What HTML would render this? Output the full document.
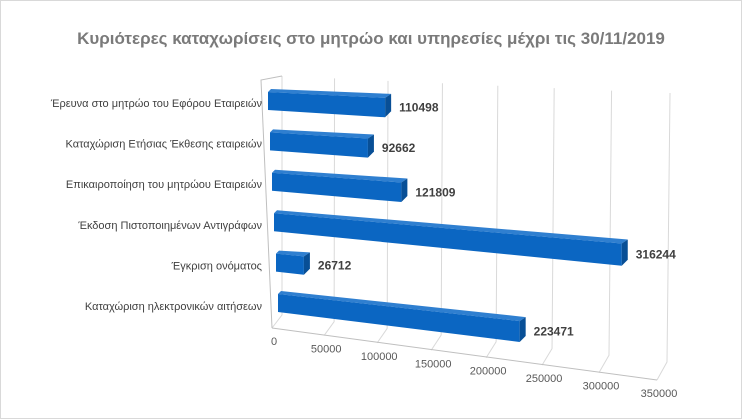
<!DOCTYPE html>
<html><head><meta charset="utf-8"><style>
body{margin:0;background:#fff}
svg{display:block;font-family:"Liberation Sans","DejaVu Sans",sans-serif}
</style></head><body>
<svg width="742" height="419" viewBox="0 0 742 419" xmlns="http://www.w3.org/2000/svg">
<rect x="0.5" y="0.5" width="741" height="418" fill="#fff" stroke="#d9d9d9"/>
<text x="371" y="44" text-anchor="middle" font-size="17" font-weight="bold" fill="#7a7a7a">Κυριότερες καταχωρίσεις στο μητρώο και υπηρεσίες  μέχρι τις 30/11/2019</text>
<g id="grid"></g><g id="bars"></g><g id="labels"></g>
</svg>
<script>
const categories=["Έρευνα στο μητρώο του Εφόρου Εταιρειών","Καταχώριση Ετήσιας Έκθεσης  εταιρειών","Επικαιροποίηση του μητρώου Εταιρειών","Έκδοση Πιστοποιημένων Αντιγράφων","Έγκριση  ονόματος","Καταχώριση ηλεκτρονικών αιτήσεων"];
const values=[110498,92662,121809,316244,26712,223471];
const ticks=[0,50000,100000,150000,200000,250000,300000,350000];
const MAX=350000;
const NS="http://www.w3.org/2000/svg";
function mk(tag,attrs,parent){const e=document.createElementNS(NS,tag);for(const k in attrs)e.setAttribute(k,attrs[k]);parent.appendChild(e);return e;}
function persp(v){const t=v/MAX;return t/(1-0.06*t)*0.94;}
// back wall
function bx(v){return 282+388*persp(v);}
function bTop(v){return 76+17*v/MAX;}
function bBot(v){return 315+47*v/MAX;}
function fx(v){return 272+385*persp(v);}
function fy(v){return 328+52*v/MAX;}
const grid=document.getElementById('grid');
ticks.forEach((t,i)=>{
  const l=mk('polyline',{points:`${bx(t)},${bTop(t)} ${bx(t)-3*t/MAX},${bBot(t)} ${fx(t)},${fy(t)}`,fill:'none',stroke:'#d9d9d9','stroke-width':1},grid);
  
  
  const tx=mk('text',{x:fx(t)+2,y:fy(t)+17,'font-size':11,fill:'#595959','text-anchor':'middle'},grid);
  tx.textContent=t;
  
  
});
const lw=mk('polyline',{points:`${bx(0)},${bTop(0)} 261,80 272,328`,fill:'none',stroke:'#bfbfbf'},grid);


const fe=mk('line',{x1:fx(0),y1:fy(0),x2:fx(MAX),y2:fy(MAX),stroke:'#bfbfbf'},grid);


const bars=document.getElementById('bars');
const labels=document.getElementById('labels');
const k=0.00104;
values.forEach((v,i)=>{
  const xl=268+2*i, yl=92+40.4*i, slope=0.05+0.0124*i;
  const dx=k*v/(1-0.06*v/MAX);
  const xr=xl+dx, yr=yl+slope*dx;
  const hl=18, hr=18+0.012*dx;
  const g=mk('g',{},bars);
  
  
  mk('polygon',{points:`${xl},${yl} ${xl+3},${yl-3} ${xr+6},${yr-4} ${xr},${yr}`,fill:'#2f7fd0'},g);
  mk('polygon',{points:`${xl},${yl} ${xr},${yr} ${xr},${yr+hr} ${xl},${yl+hl}`,fill:'#0b66c2'},g);
  mk('polygon',{points:`${xr},${yr} ${xr+6},${yr-4} ${xr+6},${yr+hr-6} ${xr},${yr+hr}`,fill:'#084f96'},g);
  const vt=mk('text',{x:xr+14,y:yr+hr/2+4,'font-size':12,'font-weight':'bold',fill:'#404040'},labels);
  vt.textContent=v;
  
  
  const ct=mk('text',{x:262,y:107+40.6*i,'font-size':11,fill:'#404040','text-anchor':'end'},labels);
  ct.textContent=categories[i];
  
  
});
</script>
</body></html>
